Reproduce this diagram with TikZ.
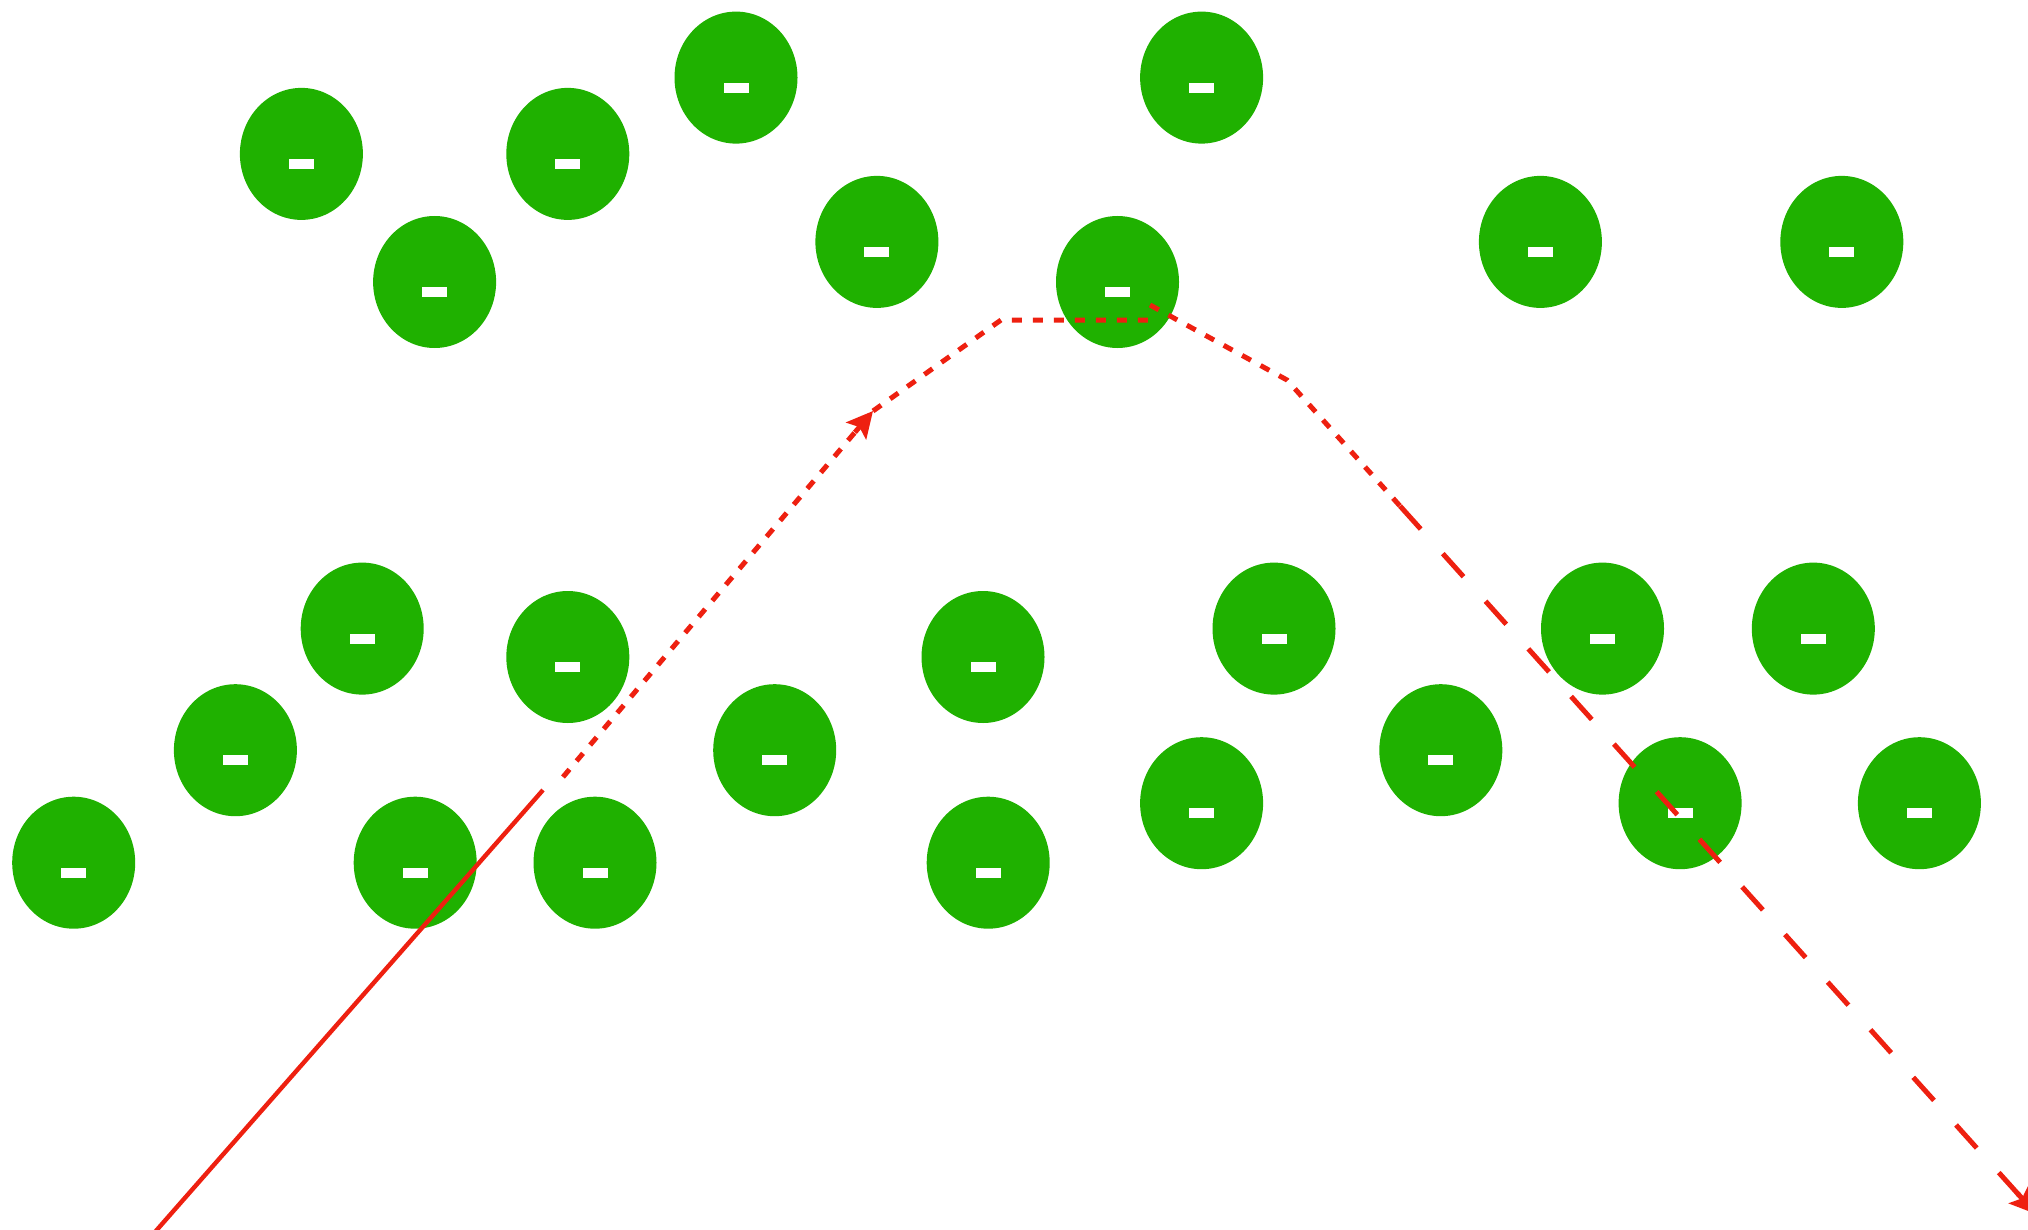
\documentclass[tikz,border=0pt]{standalone}
\usetikzlibrary{shapes.geometric,arrows.meta,calc}
\definecolor{ionG}{RGB}{31,177,0}
\definecolor{pathR}{RGB}{238,32,16}
\begin{document}
\begin{tikzpicture}[x=0.5pt,y=-0.5pt,
  ion/.style={ellipse, fill=ionG, minimum width=61.5pt, minimum height=66pt, inner sep=0pt,
    path picture={\fill[white] ([shift={(-6.25pt,-7.5pt)}]path picture bounding box.center) rectangle ++(12.5pt,5pt);}},
  track/.style={draw=pathR, line width=2.5pt},
  shortdash/.style={track, dash pattern=on 5pt off 5.5pt},
  longdash/.style={track, dash pattern=on 15.5pt off 16.5pt},
  tip/.style={track, solid, -{Stealth[length=13pt,width=13pt,inset=2.5pt,fill=pathR]}}
]
\useasboundingbox (0,0) rectangle (2028,1230);
% ions
\node[ion] (c1) at (301.4,153.9) {};
\node[ion] (c2) at (567.8,153.9) {};
\node[ion] (c3) at (736.0,77.6) {};
\node[ion] (c4) at (1201.6,77.6) {};
\node[ion] (c5) at (434.6,282.0) {};
\node[ion] (c6) at (876.9,241.9) {};
\node[ion] (c7) at (1117.5,282.0) {};
\node[ion] (c8) at (1540.4,241.9) {};
\node[ion] (c9) at (1841.8,241.9) {};
\node[ion] (c10) at (362.2,628.6) {};
\node[ion] (c11) at (567.8,657.0) {};
\node[ion] (c12) at (983.0,657.0) {};
\node[ion] (c13) at (1274.0,628.6) {};
\node[ion] (c14) at (1602.5,628.6) {};
\node[ion] (c15) at (1813.3,628.6) {};
\node[ion] (c16) at (235.4,750.2) {};
\node[ion] (c17) at (774.7,750.2) {};
\node[ion] (c18) at (1440.8,750.2) {};
\node[ion] (c19) at (1201.6,803.2) {};
\node[ion] (c20) at (1680.1,803.2) {};
\node[ion] (c21) at (1919.4,803.2) {};
\node[ion] (c22) at (73.7,862.7) {};
\node[ion] (c23) at (415.2,862.7) {};
\node[ion] (c24) at (595.0,862.7) {};
\node[ion] (c25) at (988.2,862.7) {};
% path points
\coordinate (s0) at (155,1232);
\coordinate (s1) at (543,790);
\coordinate (d0) at (563,777);
\coordinate (a1) at (873,411);
\coordinate (k1) at (1001,320);
\coordinate (k2) at (1150,320);
\coordinate (k3) at (1150,305);
\coordinate (k4) at (1287,380);
\coordinate (k5) at (1400,506);
\coordinate (e) at (2036,1214);
% track
\draw[track, line width=2.2pt] (s0) -- (s1);
\draw[shortdash, shorten >=12pt] (d0) -- (a1);
\draw[tip] ($(a1)!14pt!(d0)$) -- (a1);
\draw[shortdash] (a1) -- (k1) -- (k2);
\draw[shortdash] (k3) -- (k4) -- (k5);
\draw[longdash, shorten >=12pt] (k5) -- (e);
\draw[tip] ($(e)!14pt!(k5)$) -- (e);
\end{tikzpicture}
\end{document}
